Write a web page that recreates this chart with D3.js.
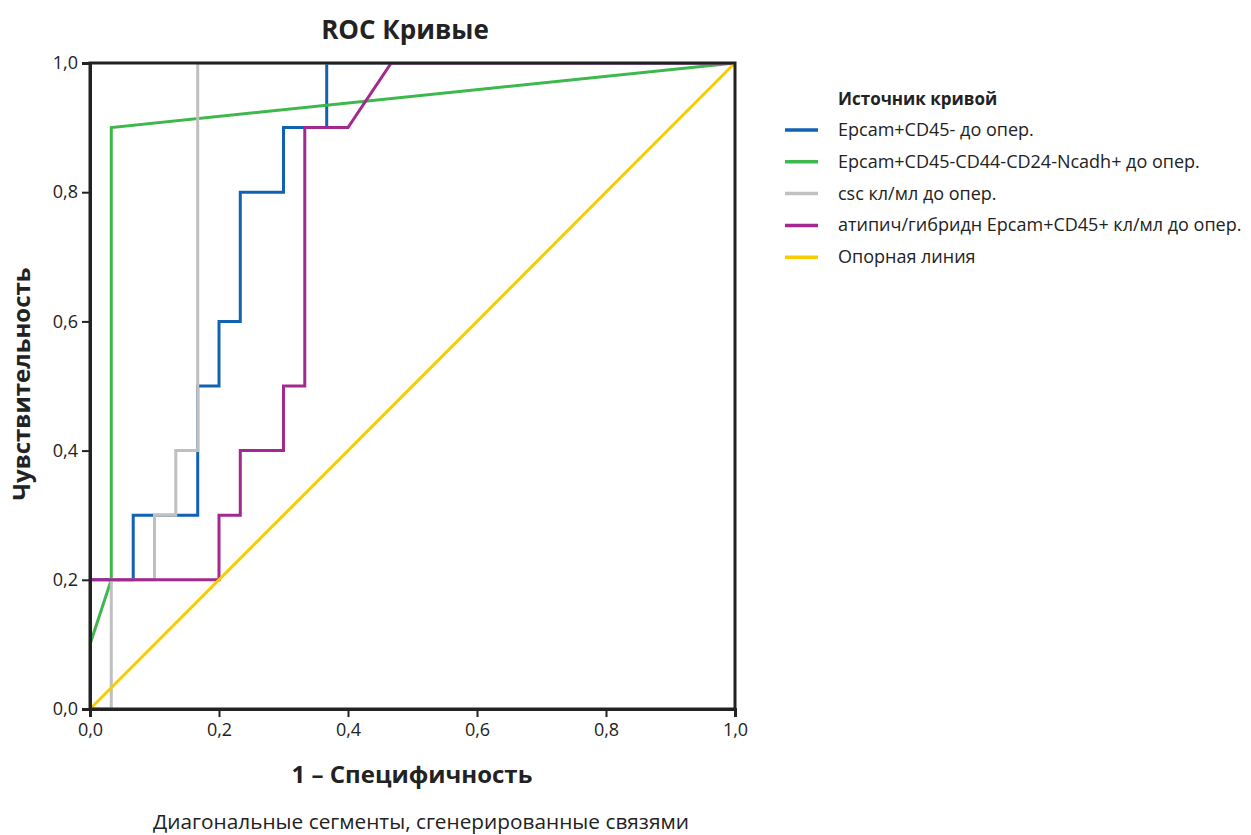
<!DOCTYPE html>
<html>
<head>
<meta charset="utf-8">
<script src="https://d3js.org/d3.v7.min.js"></script>
<style>
  body { margin: 0; background: #fff; }
  text { font-family: "Open Sans", "Noto Sans", sans-serif; fill: #222; }
</style>
</head>
<body>
<div id="chart"></div>
<script>
// Данные кривых (1 - специфичность, чувствительность)
const seriesNames = [
  "Epcam+CD45- до опер.",
  "Epcam+CD45-CD44-CD24-Ncadh+ до опер.",
  "csc кл/мл до опер.",
  "атипич/гибридн Epcam+CD45+ кл/мл до опер.",
  "Опорная линия"
];
const seriesColors = ["#1262b3", "#3db84c", "#c0c0c0", "#a3288f", "#f7cd00"];

const epcamX = [0, 0, 0.067, 0.067, 0.167, 0.167, 0.2, 0.2, 0.233, 0.233, 0.3, 0.3, 0.367, 0.367, 1];
const epcamY = [0, 0.2, 0.2, 0.3, 0.3, 0.5, 0.5, 0.6, 0.6, 0.8, 0.8, 0.9, 0.9, 1, 1];

const ncadhX = [0, 0.033, 0.033, 1];
const ncadhY = [0.1, 0.2, 0.9, 1];

const cscX = [0, 0.033, 0.033, 0.1, 0.1, 0.133, 0.133, 0.167, 0.167, 1];
const cscY = [0, 0, 0.2, 0.2, 0.3, 0.3, 0.4, 0.4, 1, 1];

const atypX = [0, 0, 0.2, 0.2, 0.233, 0.233, 0.3, 0.3, 0.333, 0.333, 0.4, 0.467, 1];
const atypY = [0, 0.2, 0.2, 0.3, 0.3, 0.4, 0.4, 0.5, 0.5, 0.9, 0.9, 1, 1];

const refX = [0, 1];
const refY = [0, 1];

const tickValues = [0, 0.2, 0.4, 0.6, 0.8, 1.0];

const W = 1251, H = 835;
const margin = { left: 90, top: 63, right: 516, bottom: 126 };
const iw = W - margin.left - margin.right;
const ih = H - margin.top - margin.bottom;

const svg = d3.select("#chart").append("svg")
  .attr("width", W).attr("height", H);

const x = d3.scaleLinear().domain([0, 1]).range([margin.left, margin.left + iw]);
const y = d3.scaleLinear().domain([0, 1]).range([margin.top + ih, margin.top]);

const fmt = d => d3.format(".1f")(d).replace(".", ",");

// заголовок
svg.append("text")
  .attr("x", 405).attr("y", 39)
  .attr("text-anchor", "middle")
  .style("font-size", "26px").style("font-weight", "bold")
  .text("ROC Кривые");

// обрезка по области графика
svg.append("clipPath").attr("id", "plot-clip")
  .append("rect")
  .attr("x", x(0)).attr("y", y(1))
  .attr("width", x(1) - x(0)).attr("height", y(0) - y(1));

// кривые
const series = [
  [epcamX, epcamY],
  [ncadhX, ncadhY],
  [cscX, cscY],
  [atypX, atypY],
  [refX, refY]
];
const line = d3.line().x(d => x(d[0])).y(d => y(d[1]));

const curves = svg.append("g").attr("clip-path", "url(#plot-clip)");
series.forEach((s, i) => {
  const pts = s[0].map((v, j) => [v, s[1][j]]);
  curves.append("path")
    .datum(pts)
    .attr("d", line)
    .attr("fill", "none")
    .attr("stroke", seriesColors[i])
    .attr("stroke-width", 3)
    .attr("stroke-linejoin", "miter");
});

// рамка
svg.append("rect")
  .attr("x", x(0)).attr("y", y(1))
  .attr("width", x(1) - x(0)).attr("height", y(0) - y(1))
  .attr("fill", "none").attr("stroke", "#222").attr("stroke-width", 3);

// оси
const xAxis = svg.append("g")
  .attr("transform", `translate(0,${y(0)})`)
  .call(d3.axisBottom(x).tickValues(tickValues).tickFormat(fmt).tickSizeOuter(0).tickSize(8).tickPadding(6));
const yAxis = svg.append("g")
  .attr("transform", `translate(${x(0)},0)`)
  .call(d3.axisLeft(y).tickValues(tickValues).tickFormat(fmt).tickSizeOuter(0).tickSize(8).tickPadding(4));
[xAxis, yAxis].forEach(g => {
  g.select(".domain").attr("stroke", "#222").attr("stroke-width", 3);
  g.selectAll(".tick line").attr("stroke", "#222").attr("stroke-width", 2);
  g.selectAll(".tick text").style("font-size", "18px").style("font-family", "'Open Sans', sans-serif").attr("fill", "#333");
});

// подписи осей
svg.append("text")
  .attr("x", 412).attr("y", 783)
  .attr("text-anchor", "middle")
  .style("font-size", "24px").style("font-weight", "bold")
  .text("1 – Специфичность");

svg.append("text")
  .attr("transform", `translate(30,${(y(0) + y(1)) / 2 - 2}) rotate(-90)`)
  .attr("text-anchor", "middle")
  .style("font-size", "24px").style("font-weight", "bold")
  .text("Чувствительность");

svg.append("text")
  .attr("x", 421).attr("y", 829)
  .attr("text-anchor", "middle")
  .style("font-size", "20.8px")
  .text("Диагональные сегменты, сгенерированные связями");

// легенда
const legend = svg.append("g");
legend.append("text")
  .attr("x", 838).attr("y", 105)
  .style("font-size", "17px").style("font-weight", "bold")
  .text("Источник кривой");

seriesNames.forEach((name, i) => {
  const ly = 130 + i * 31.8;
  legend.append("line")
    .attr("x1", 785).attr("x2", 818)
    .attr("y1", ly).attr("y2", ly)
    .attr("stroke", seriesColors[i]).attr("stroke-width", 3.5);
  legend.append("text")
    .attr("x", 838).attr("y", ly + 6)
    .style("font-size", "18px")
    .text(name);
});
</script>
</body>
</html>
